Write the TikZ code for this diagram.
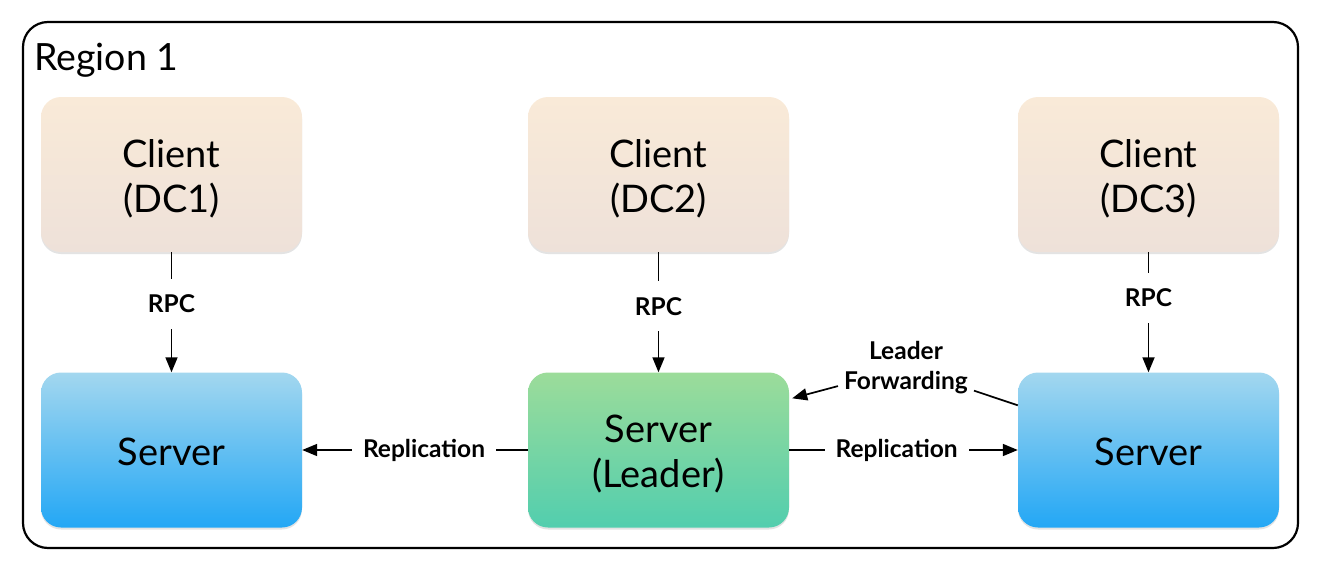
\documentclass[tikz,border=0pt]{standalone}
\usepackage{fontspec}
\setmainfont{Lato}
\usetikzlibrary{arrows.meta,shadows,calc}
\definecolor{cltop}{HTML}{F9EAD8}
\definecolor{clbot}{HTML}{EEE1D9}
\definecolor{svtop}{HTML}{A3D7EF}
\definecolor{svbot}{HTML}{23A7F5}
\definecolor{ldtop}{HTML}{9CDC9A}
\definecolor{ldbot}{HTML}{52CEAE}
\tikzset{
  box/.style={rounded corners=20pt, minimum width=261pt, minimum height=155pt,
    inner sep=0pt, align=center, font=\fontsize{38}{45}\selectfont,
    drop shadow={shadow xshift=0pt, shadow yshift=-2pt, opacity=0.18, fill=black!60}},
  boxtext/.style={align=center, font=\fontsize{38}{45}\selectfont, inner sep=0pt},
  clientbox/.style={box, top color=cltop, bottom color=clbot},
  serverbox/.style={box, top color=svtop, bottom color=svbot},
  leaderbox/.style={box, top color=ldtop, bottom color=ldbot},
  conn/.style={line width=1.7pt, draw=black},
  arr/.style={conn, -{Triangle[length=15pt,width=12pt]}},
  lbl/.style={fill=white, inner xsep=11pt, inner ysep=16pt, font=\bfseries\fontsize{24.5}{30}\selectfont},
  frame/.style={line width=2.2pt, rounded corners=25pt}
}
\begin{document}
\begin{tikzpicture}[x=1pt,y=-1pt]
\useasboundingbox (0,0) rectangle (1320,570);
\draw[frame] (23,22) rectangle (1298,548);
\node[anchor=base west, font=\fontsize{37.5}{40}\selectfont, inner sep=0pt] (region) at (34,70) {Region 1};

\node[clientbox, label={[boxtext, yshift=-4pt]center:Client\\(DC1)}] (c1) at (171.5,174.5) {};
\node[clientbox, label={[boxtext, yshift=-4pt]center:Client\\(DC2)}] (c2) at (658.5,174.5) {};
\node[clientbox, label={[boxtext, yshift=-4pt]center:Client\\(DC3)}] (c3) at (1148.5,174.5) {};

\node[serverbox, label={[boxtext, yshift=-2pt]center:Server}] (s1) at (171.5,450) {};
\node[leaderbox, label={[boxtext, yshift=-4pt]center:Server\\(Leader)}] (s2) at (658.5,450) {};
\node[serverbox, label={[boxtext, yshift=-2pt]center:Server}] (s3) at (1148.5,450) {};

\draw[arr] (c1) -- node[lbl, pos=0.43] (r1) {RPC} (s1);
\draw[arr] (c2) -- node[lbl, pos=0.45] (r2) {RPC} (s2);
\draw[arr] (c3) -- node[lbl, pos=0.38] (r3) {RPC} (s3);

\draw[arr] (s2) -- node[lbl, pos=0.46] (rep1) {Replication} (s1);
\draw[arr] (s2) -- node[lbl, pos=0.47] (rep2) {Replication} (s3);

\coordinate (lfs) at ($(s3.north west)+(0,33)$);
\coordinate (lfe) at ($(s2.north east)+(3,26)$);
\node[font=\bfseries\fontsize{24.5}{30}\selectfont, align=center, inner xsep=6pt, inner ysep=2pt] (lf) at (906,368) {Leader\\Forwarding};
\draw[conn] (lfs) -- (lf);
\draw[arr] (lf) -- (lfe);
\end{tikzpicture}
\end{document}
